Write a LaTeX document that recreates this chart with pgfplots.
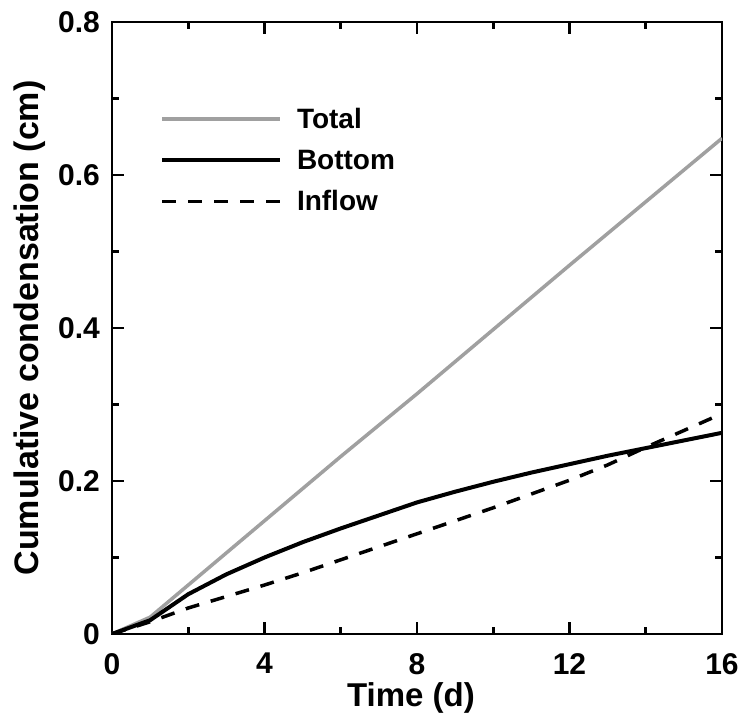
\documentclass[border=0pt]{standalone}
\usepackage{pgfplots}
\pgfplotsset{compat=1.18}
\usepackage{fontspec}
\setmainfont{Liberation Sans}
\definecolor{lgray}{RGB}{160,160,160}
\begin{document}
\begin{tikzpicture}
\begin{axis}[
  scale only axis,
  width=610pt, height=612pt,
  xmin=0, xmax=16, ymin=0, ymax=0.8,
  xtick={0,4,8,12,16}, minor xtick={2,6,10,14},
  ytick={0,0.2,0.4,0.6,0.8}, yticklabels={0,0.2,0.4,0.6,0.8},
  minor ytick={0.1,0.3,0.5,0.7},
  tick align=inside,
  major tick length=12pt, minor tick length=7pt,
  every tick/.style={black, line width=2.6pt},
  axis line style={line width=2.8pt},
  /pgf/number format/assume math mode=true,
  tick label style={font=\fontsize{30}{36}\selectfont\bfseries, inner sep=0pt},
  xticklabel style={anchor=north, yshift=-19pt},
  yticklabel style={anchor=east, xshift=-12pt},
  xlabel={Time (d)},
  ylabel={Cumulative condensation (cm)},
  xlabel style={font=\fontsize{33}{40}\selectfont\bfseries, inner sep=0pt,
    at={(axis description cs:0.49,0)}, anchor=base, yshift=-72pt},
  ylabel style={font=\fontsize{34}{40}\selectfont\bfseries, inner sep=0pt,
    at={(axis description cs:-0.1344,0.5)}, anchor=center},
  legend style={draw=none, fill=none, inner sep=0pt, outer sep=0pt,
    at={(axis description cs:0.0787,0.8595)}, anchor=north west,
    font=\fontsize{28}{34}\selectfont\bfseries, row sep=20pt, column sep=15pt,
    nodes={inner sep=0pt}},
  legend cell align=left,
  legend image code/.code={\draw[#1] (0pt,0pt) -- (118pt,0pt);},
]
\addplot[lgray, line width=3.5pt] coordinates {
(0,0) (1,0.022) (2,0.064) (4,0.148) (6,0.232) (8,0.314) (10,0.398) (12,0.482) (14,0.565) (16,0.648)};
\addlegendentry{Total}
\addplot[black, line width=4pt] coordinates {
(0,0) (1,0.018) (2,0.052) (3,0.078) (4,0.100) (5,0.120) (6,0.138) (7,0.155) (8,0.172) (9,0.186) (10,0.199) (11,0.211) (12,0.222) (13,0.233) (14,0.243) (15,0.253) (16,0.263)};
\addlegendentry{Bottom}
\addplot[black, line width=3.5pt, dash pattern=on 14pt off 12pt] coordinates {
(0,0) (1,0.016) (2,0.034) (3,0.049) (4,0.064) (5,0.080) (6,0.097) (7,0.114) (8,0.131) (9,0.148) (10,0.165) (11,0.183) (12,0.201) (13,0.221) (14,0.244) (15,0.266) (16,0.288)};
\addlegendentry{Inflow}
\end{axis}
\pgfresetboundingbox
\path (current axis.south west) ++(-112pt,-81pt) rectangle ++(742pt,715pt);
\end{tikzpicture}
\end{document}
